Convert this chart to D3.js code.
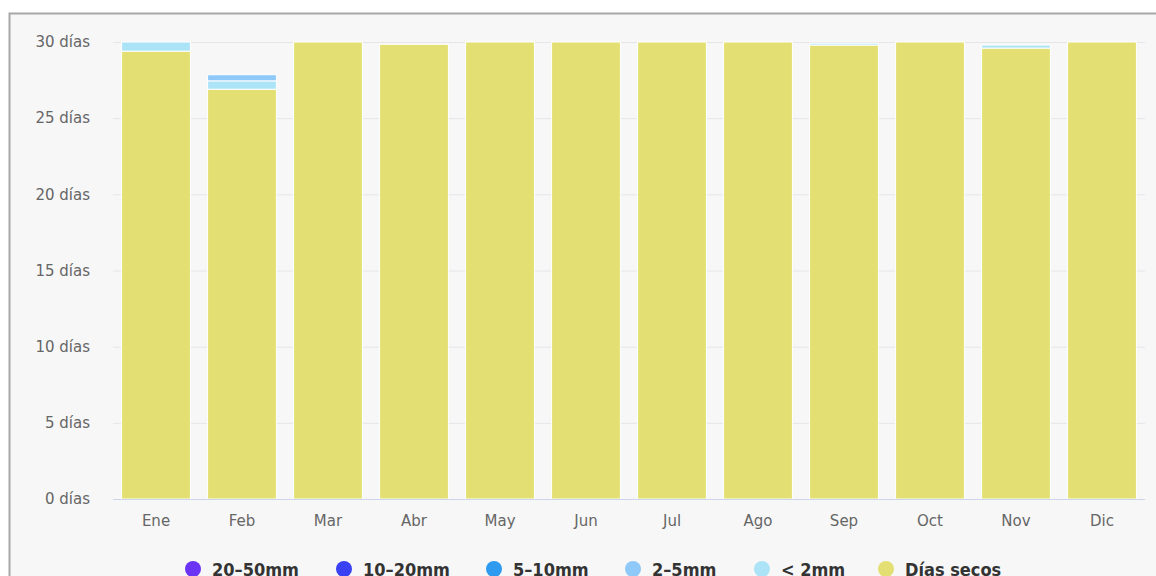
<!DOCTYPE html>
<html>
<head>
<meta charset="utf-8">
<script src="https://cdn.jsdelivr.net/npm/d3@7"></script>
<style>
  html, body { margin: 0; padding: 0; background: #ffffff; overflow: hidden; }
  svg { display: block; }
</style>
</head>
<body>
<svg id="chart" width="1156" height="576"></svg>
<script>
// Monthly count of days per precipitation class
const months = ["Ene", "Feb", "Mar", "Abr", "May", "Jun", "Jul", "Ago", "Sep", "Oct", "Nov", "Dic"];
const seriesNames = ["20–50mm", "10–20mm", "5–10mm", "2–5mm", "< 2mm", "Días secos"];
const seriesColors = ["#6b34f5", "#3a41f2", "#2f9bf0", "#8ec9f9", "#ade3f7", "#e3df73"];
const rain20to50 = [0, 0, 0, 0, 0, 0, 0, 0, 0, 0, 0, 0];
const rain10to20 = [0, 0, 0, 0, 0, 0, 0, 0, 0, 0, 0, 0];
const rain5to10  = [0, 0, 0, 0, 0, 0, 0, 0, 0, 0, 0, 0];
const rain2to5   = [0, 0.4, 0, 0, 0, 0, 0, 0, 0, 0, 0, 0];
const rainUnder2 = [0.6, 0.55, 0, 0, 0, 0, 0, 0, 0.12, 0, 0.2, 0];
const dryDays    = [29.4, 26.9, 30, 29.85, 30, 30, 30, 30, 29.8, 30, 29.6, 30];
const yTicks = [0, 5, 10, 15, 20, 25, 30];

const svg = d3.select("#chart");
const W = 1156, H = 576;

// panel frame
svg.append("rect").attr("x", 9.5).attr("y", 13.5).attr("width", W).attr("height", H)
  .attr("fill", "#f7f7f7").attr("stroke", "#a8a8a8").attr("stroke-width", 2);

const plot = { left: 113, right: 1145, top: 42, bottom: 499 };

const x = d3.scaleBand().domain(months).range([plot.left, plot.right]).paddingInner(0.2).paddingOuter(0.1);
const y = d3.scaleLinear().domain([0, 30]).range([plot.bottom, plot.top]);

// grid lines
const yAxis = d3.axisLeft(y).tickValues(yTicks).tickSize(-(plot.right - plot.left)).tickFormat(d => d + " días");
const gy = svg.append("g").attr("transform", `translate(${plot.left},0)`).call(yAxis);
gy.select(".domain").remove();
gy.selectAll(".tick line").attr("stroke", "#e6e6e6").attr("stroke-width", 1);
gy.selectAll(".tick text").attr("x", -23).attr("fill", "#666666")
  .style("font-family", "'DejaVu Sans', Verdana, sans-serif").style("font-size", "15px");

// stacked bars
const rows = months.map((m, i) => ({
  month: m,
  s0: rain20to50[i], s1: rain10to20[i], s2: rain5to10[i], s3: rain2to5[i], s4: rainUnder2[i], s5: dryDays[i]
}));
// stacking order: dry days at the bottom, heavier rain on top
const keys = ["s5", "s4", "s3", "s2", "s1", "s0"];
const colorOf = { s0: seriesColors[0], s1: seriesColors[1], s2: seriesColors[2], s3: seriesColors[3], s4: seriesColors[4], s5: seriesColors[5] };
const stacked = d3.stack().keys(keys)(rows);

svg.append("g").selectAll("g").data(stacked).join("g")
  .attr("fill", d => colorOf[d.key])
  .selectAll("rect").data(d => d.filter(p => p[1] - p[0] > 0)).join("rect")
  .attr("x", d => x(d.data.month))
  .attr("width", x.bandwidth())
  .attr("y", d => y(d[1]))
  .attr("height", d => y(d[0]) - y(d[1]))
  .attr("stroke", "#ffffff").attr("stroke-width", 1);

// x axis
const xAxis = d3.axisBottom(x).tickSize(0).tickPadding(16);
const gx = svg.append("g").attr("transform", `translate(0,${plot.bottom})`).call(xAxis);
gx.select(".domain").attr("stroke", "#ccd6eb").attr("d", `M${plot.left},0.5H${plot.right}`);
gx.selectAll(".tick text").attr("fill", "#666666")
  .style("font-family", "'DejaVu Sans', Verdana, sans-serif").style("font-size", "15px");

// legend
const legendX = [193, 344, 494, 633, 762, 886];
const legend = svg.append("g").selectAll("g").data(seriesNames).join("g")
  .attr("transform", (d, i) => `translate(${legendX[i]},569)`);
legend.append("circle").attr("r", 8).attr("fill", (d, i) => seriesColors[i]);
legend.append("text").attr("x", 19).attr("y", 7).text(d => d)
  .attr("fill", "#333333")
  .style("font-family", "'DejaVu Sans Condensed', 'DejaVu Sans', sans-serif")
  .style("font-weight", "bold").style("font-size", "18px");
</script>
</body>
</html>
